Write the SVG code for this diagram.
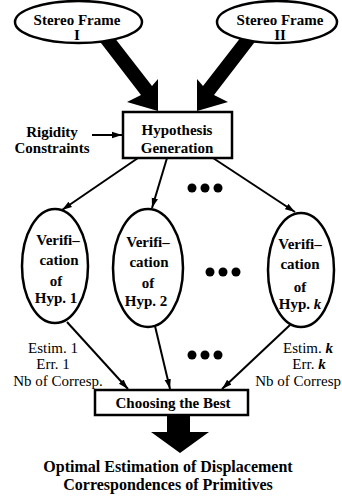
<svg xmlns="http://www.w3.org/2000/svg" width="342" height="498" viewBox="0 0 342 498">
<style>
.b{font-family:"Liberation Serif","Times New Roman",serif;font-weight:bold;font-size:15px;fill:#000;text-anchor:middle}
.r{font-family:"Liberation Serif","Times New Roman",serif;font-size:15px;fill:#000;text-anchor:middle}
.shape{fill:#fff;stroke:#000;stroke-width:2.5}
.ln{stroke:#000;stroke-width:2;fill:none}
.thick{fill:#000;stroke:none}
.dot{fill:#000}
</style>
<defs>
<marker id="ah" markerUnits="userSpaceOnUse" markerWidth="11" markerHeight="8" refX="10" refY="4" orient="auto">
<path d="M0,0.8 L10,4 L0,7.2 Z" fill="#000"/>
</marker>
</defs>
<g id="connectors">
<polygon class="thick" points="91,30 107,28 152,86 158,79 158,111 127,102 141,95"/>
<polygon class="thick" points="264,30 248,28 203,86 197,79 197,111 228,102 214,95"/>
<line class="ln" x1="92" y1="135" x2="122" y2="135" marker-end="url(#ah)"/>
<line class="ln" x1="138" y1="158" x2="62" y2="210" marker-end="url(#ah)"/>
<line class="ln" x1="167" y1="158" x2="152" y2="208" marker-end="url(#ah)"/>
<line class="ln" x1="213" y1="158" x2="295" y2="212" marker-end="url(#ah)"/>
<line class="ln" x1="67" y1="322" x2="128" y2="389" marker-end="url(#ah)"/>
<line class="ln" x1="155" y1="326" x2="170" y2="389" marker-end="url(#ah)"/>
<line class="ln" x1="290" y1="325" x2="222" y2="389" marker-end="url(#ah)"/>
<polygon class="thick" points="167,415 190,415 190,432 209,432 180,453 151,432 167,432"/>
</g>
<g id="frame1">
<ellipse class="shape" cx="78.5" cy="22" rx="63.5" ry="21"/>
<text class="b" x="77" y="25">Stereo Frame</text>
<text class="b" x="77" y="39.5">I</text>
</g>
<g id="frame2">
<ellipse class="shape" cx="277" cy="22" rx="60" ry="21"/>
<text class="b" x="280" y="25">Stereo Frame</text>
<text class="b" x="280" y="39.5">II</text>
</g>
<g id="rigidity">
<text class="b" x="52" y="137">Rigidity</text>
<text class="b" x="52" y="153">Constraints</text>
</g>
<g id="hypgen">
<rect class="shape" x="123" y="112" width="109" height="46"/>
<text class="b" x="177" y="135">Hypothesis</text>
<text class="b" x="177" y="153">Generation</text>
</g>
<g id="ver1">
<ellipse class="shape" cx="55" cy="266" rx="33" ry="57"/>
<text class="b" x="58" y="245">Verifi–</text>
<text class="b" x="59" y="265">cation</text>
<text class="b" x="56" y="286">of</text>
<text class="b" x="56" y="303">Hyp. 1</text>
</g>
<g id="ver2">
<ellipse class="shape" cx="148" cy="268" rx="35" ry="59"/>
<text class="b" x="148" y="247">Verifi–</text>
<text class="b" x="149" y="267">cation</text>
<text class="b" x="148" y="288">of</text>
<text class="b" x="146" y="306">Hyp. 2</text>
</g>
<g id="verk">
<ellipse class="shape" cx="301" cy="270" rx="33" ry="57"/>
<text class="b" x="300" y="249">Verifi–</text>
<text class="b" x="300" y="269">cation</text>
<text class="b" x="300" y="292">of</text>
<text class="b" x="300" y="309">Hyp. <tspan font-style="italic">k</tspan></text>
</g>
<g id="dots">
<circle class="dot" cx="192" cy="188" r="4.5"/><circle class="dot" cx="205" cy="188" r="4.5"/><circle class="dot" cx="218" cy="188" r="4.5"/>
<circle class="dot" cx="210" cy="272" r="4.5"/><circle class="dot" cx="223" cy="272" r="4.5"/><circle class="dot" cx="236" cy="272" r="4.5"/>
<circle class="dot" cx="192" cy="355" r="4.5"/><circle class="dot" cx="205" cy="355" r="4.5"/><circle class="dot" cx="218" cy="355" r="4.5"/>
</g>
<g id="labels1">
<text class="r" x="53" y="353">Estim. 1</text>
<text class="r" x="53" y="369">Err. 1</text>
<text class="r" x="58" y="386">Nb of Corresp.</text>
</g>
<g id="labelsk">
<text class="r" x="308" y="353">Estim. <tspan font-style="italic" font-weight="bold">k</tspan></text>
<text class="r" x="309" y="369">Err. <tspan font-style="italic" font-weight="bold">k</tspan></text>
<text class="r" x="341" y="386" style="text-anchor:end">Nb of Corresp</text>
</g>
<g id="choose">
<rect class="shape" x="95" y="390" width="153" height="25"/>
<text class="b" x="173" y="408">Choosing the Best</text>
</g>
<g id="result">
<text class="b" x="168" y="472" style="font-size:16px">Optimal Estimation of Displacement</text>
<text class="b" x="168" y="490" style="font-size:16px">Correspondences of Primitives</text>
</g>
</svg>
